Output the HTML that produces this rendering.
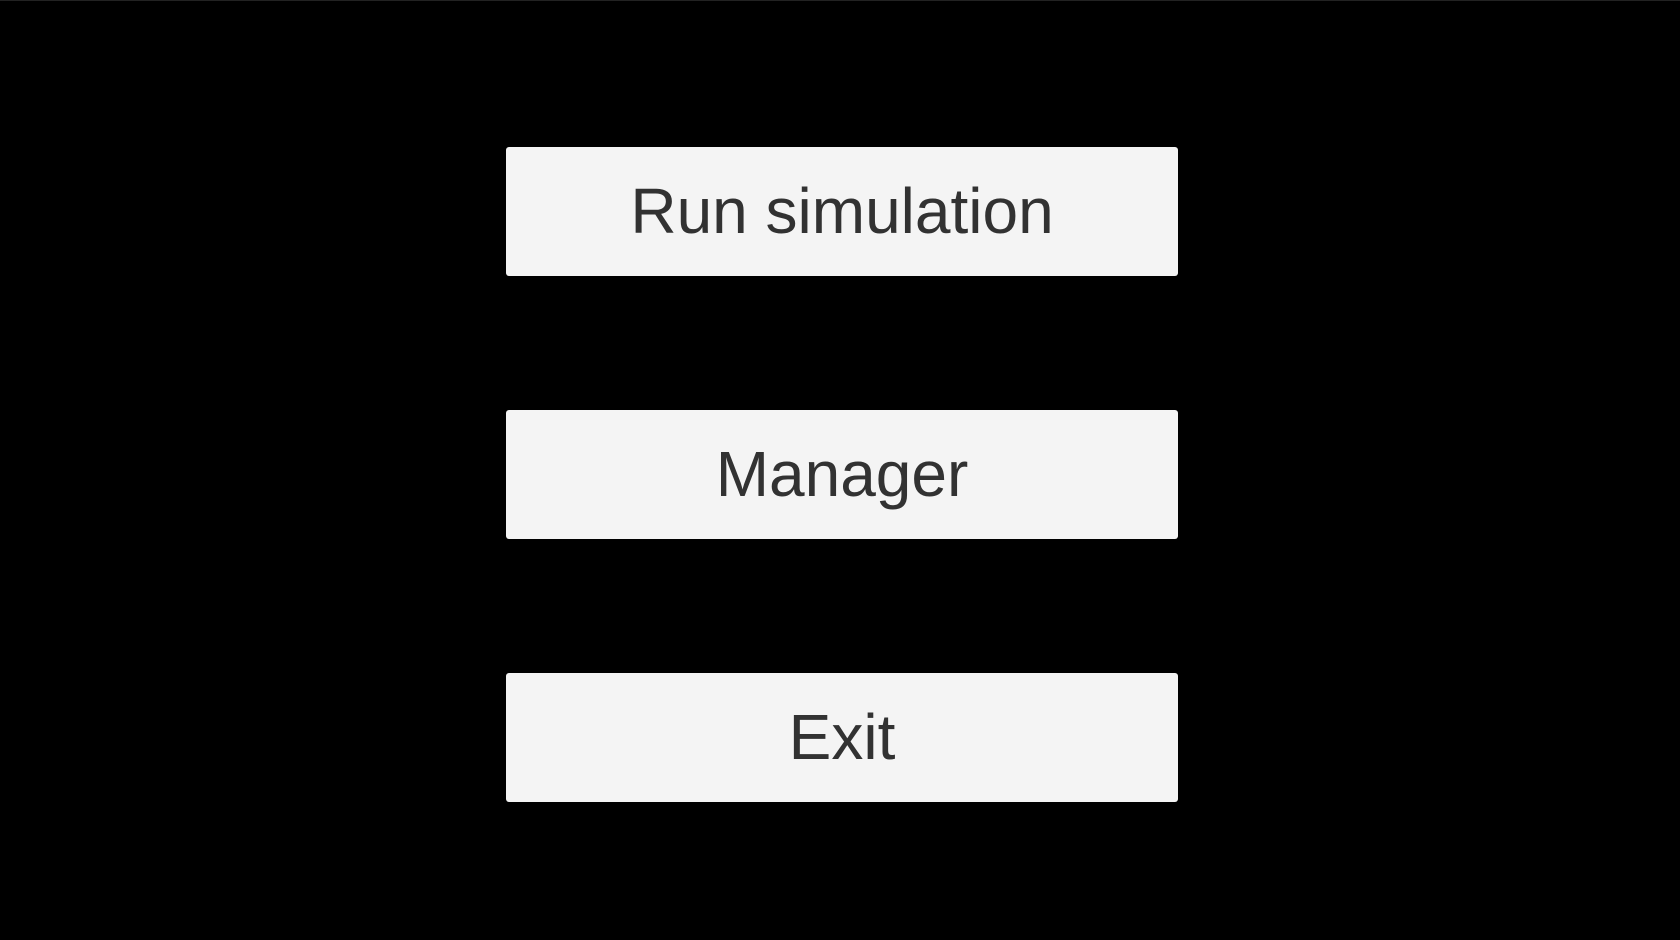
<!DOCTYPE html>
<html><head><style>
html,body{margin:0;padding:0;background:#000;width:1680px;height:940px;overflow:hidden;}
.top{position:absolute;left:0;top:0;width:1680px;height:1px;background:#222;}
.b{position:absolute;left:506px;width:672px;height:129px;background:#f4f4f4;border-radius:3px;
font-family:"Liberation Sans",sans-serif;font-size:64px;color:#323232;text-align:center;line-height:129px;}
</style></head><body>
<div class="top"></div>
<div class="b" style="top:147px">Run simulation</div>
<div class="b" style="top:410px">Manager</div>
<div class="b" style="top:673px">Exit</div>
</body></html>
